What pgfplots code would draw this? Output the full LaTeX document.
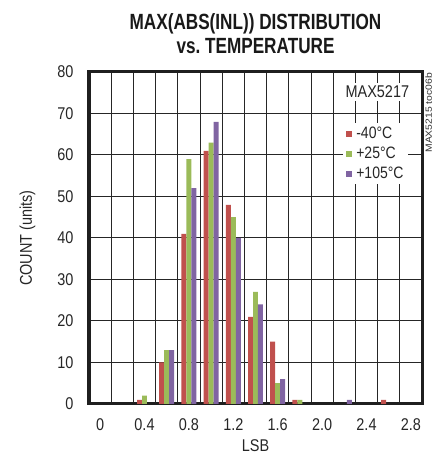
\documentclass[border=0pt]{standalone}
\usepackage{pgfplots}
\pgfplotsset{compat=1.18}
\usepackage{fontspec}
\setmainfont{Liberation Sans}[FakeStretch=0.85]
\newfontfamily\titlefont{Liberation Sans}[FakeStretch=0.78]
\newfontfamily\notefont{Liberation Sans}[FakeStretch=1.15]

\definecolor{cold}{HTML}{C0504D}
\definecolor{room}{HTML}{9BBB59}
\definecolor{hot}{HTML}{8064A2}

\begin{document}
\begin{tikzpicture}
\begin{axis}[
    at={(0,0)}, anchor=south west,
    set layers, clip=false,
    width=333pt, height=332pt, scale only axis,
    ybar=0pt, bar width=0.225,
    xmin=-0.5, xmax=14.5, ymin=0, ymax=80,
    xtick={0,2,...,14},
    xticklabels={0,0.4,0.8,1.2,1.6,2.0,2.4,2.8},
    minor xtick={-0.5,0.5,...,14.5},
    ytick={0,10,...,80},
    xminorgrids, ymajorgrids,
    major tick length=0pt, minor tick length=0pt,
    grid style={line width=1pt, black!85},
    minor grid style={line width=1pt, black!85},
    axis line style={line width=3pt, black!88, on layer=axis foreground},
    /pgf/number format/assume math mode=true,
    ticklabel style={font=\fontsize{17}{19}\selectfont, text=black!85},
    xticklabel style={anchor=north, yshift=-11pt},
    yticklabel style={anchor=east, xshift=-12pt},
    label style={font=\fontsize{17}{19}\selectfont, text=black!85},
    xlabel={LSB},
    xlabel style={at={(0.5,0)}, anchor=north, yshift=-35.5pt,
        inner sep=0pt, text depth=0pt},
    ylabel={COUNT (units)},
    ylabel style={at={(0,0.5)}, anchor=south, yshift=50pt},
    title={MAX(ABS(INL)) DISTRIBUTION\\vs.\ TEMPERATURE},
    title style={at={(0.5,1)}, anchor=south, yshift=12.5pt,
        inner sep=0pt, align=center, text=black!90,
        font=\titlefont\bfseries\fontsize{22}{24}\selectfont},
    legend style={at={(0.763,0.846)}, anchor=north west,
        draw=none, fill=white,
        font=\fontsize{16.5}{18}\selectfont, text=black!85,
        nodes={inner sep=1pt}, row sep=5pt, column sep=3pt, inner sep=3pt},
    legend cell align=left,
    legend image code/.code={\fill[#1] (0pt,-3pt) rectangle (6pt,3pt);},
]
\addplot[fill=cold, draw=none] coordinates {
    (2,1) (3,10) (4,41) (5,61) (6,48) (7,21) (8,15) (9,1) (13,1)
};
\addplot[fill=room, draw=none] coordinates {
    (2,2) (3,13) (4,59) (5,63) (6,45) (7,27) (8,5) (9,1)
};
\addplot[fill=hot, draw=none] coordinates {
    (3,13) (4,52) (5,68) (6,40) (7,24) (8,6) (11,1)
};
\legend{-40\textdegree C, +25\textdegree C, +105\textdegree C}
\node[fill=white, inner sep=3pt, font=\fontsize{17}{19}\selectfont, text=black!85]
    at (rel axis cs:0.866,0.94) {MAX5217};
\node[rotate=90, anchor=east, font=\notefont\fontsize{9}{10}\selectfont,
      text=black!80, inner sep=0pt]
    at ([xshift=6.7pt,yshift=-1pt]rel axis cs:1,1) {MAX5215 toc06b};
\end{axis}
% page size of the reference: 433 x 457, axis box 333 x 332
\pgfresetboundingbox
\path (-89pt,-53pt) rectangle (344pt,404pt);
\end{tikzpicture}
\end{document}
